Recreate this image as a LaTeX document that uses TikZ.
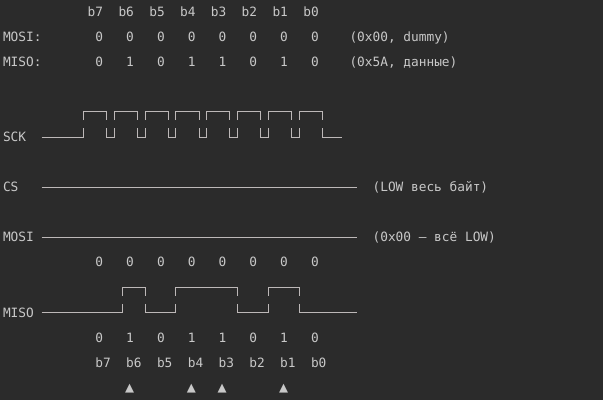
\documentclass[tikz,border=0pt]{standalone}
\usepackage{fontspec}
\newfontfamily\mono{DejaVu Sans Mono}
\definecolor{bg}{HTML}{2B2B2B}
\definecolor{fg}{HTML}{C8C8C8}
\definecolor{wire}{HTML}{BDB8B8}
\tikzset{
  txt/.style={font=\mono\fontsize{12.8bp}{15bp}\selectfont, text=fg, inner sep=0pt, outer sep=0pt, anchor=base west, yshift=-4.7bp},
  tri/.style={font=\mono\fontsize{15bp}{15bp}\selectfont, text=fg, inner sep=0pt, outer sep=0pt, anchor=center, yshift=-1bp},
  wave/.style={draw=wire, line width=0.9bp}
}
\begin{document}
\begin{tikzpicture}[x=7.7bp, y=-25.05bp]
\fill[bg] (0bp,0bp) rectangle (603bp,-400bp);
\useasboundingbox (0bp,0bp) rectangle (603bp,-400bp);
\begin{scope}[shift={(3bp,-11.7bp)}]
% header table
\foreach \b [count=\i from 0] in {b7,b6,b5,b4,b3,b2,b1,b0}
  \node[txt] (hb\i) at (11+4*\i,0) {\b};
\node[txt] (lmosi1) at (0,1) {MOSI:};
\foreach \i in {0,...,7}
  \node[txt] (mo\i) at (12+4*\i,1) {0};
\node[txt] (cmosi1) at (45,1) {(0x00, dummy)};
\node[txt] (lmiso1) at (0,2) {MISO:};
\foreach \v [count=\i from 0] in {0,1,0,1,1,0,1,0}
  \node[txt] (mi\i) at (12+4*\i,2) {\v};
\node[txt] (cmiso1) at (45,2) {(0x5A, данные)};
% SCK
\node[txt] (lsck) at (0,5) {SCK};
\draw[wave] (5,5) -- (10.45,5) -- (10.45,4.66);
\foreach \r in {10,14,...,38}
  \draw[wave] (\r+0.45,4.33) -- (\r+0.45,4) -- (\r+3.45,4) -- (\r+3.45,4.33);
\foreach \f in {13,17,...,37}
  \draw[wave] (\f+0.45,4.66) -- (\f+0.45,5) -- (\f+1.45,5) -- (\f+1.45,4.66);
\draw[wave] (41.45,4.66) -- (41.45,5) -- (44,5);
% CS
\node[txt] (lcs) at (0,7) {CS};
\draw[wave] (5,7) -- (46,7);
\node[txt] (ccs) at (48,7) {(LOW весь байт)};
% MOSI
\node[txt] (lmosi2) at (0,9) {MOSI};
\draw[wave] (5,9) -- (46,9);
\node[txt] (cmosi2) at (48,9) {(0x00 — всё LOW)};
\foreach \i in {0,...,7}
  \node[txt] (mz\i) at (12+4*\i,10) {0};
% MISO
\node[txt] (lmiso2) at (0,12) {MISO};
\draw[wave] (5,12) -- (15.45,12) -- (15.45,11.66);
\draw[wave] (15.45,11.33) -- (15.45,11) -- (18.45,11) -- (18.45,11.33);
\draw[wave] (18.45,11.66) -- (18.45,12) -- (22.45,12) -- (22.45,11.66);
\draw[wave] (22.45,11.33) -- (22.45,11) -- (30.45,11) -- (30.45,11.33);
\draw[wave] (30.45,11.66) -- (30.45,12) -- (34.45,12) -- (34.45,11.66);
\draw[wave] (34.45,11.33) -- (34.45,11) -- (38.45,11) -- (38.45,11.33);
\draw[wave] (38.45,11.66) -- (38.45,12) -- (46,12);
\foreach \v [count=\i from 0] in {0,1,0,1,1,0,1,0}
  \node[txt] (mv\i) at (12+4*\i,13) {\v};
\foreach \b [count=\i from 0] in {b7,b6,b5,b4,b3,b2,b1,b0}
  \node[txt] (fb\i) at (12+4*\i,14) {\b};
\foreach \c [count=\i] in {16,24,28,36}
  \node[tri] (tri\i) at (\c+0.45,15) {▲};
\end{scope}
\end{tikzpicture}
\end{document}
